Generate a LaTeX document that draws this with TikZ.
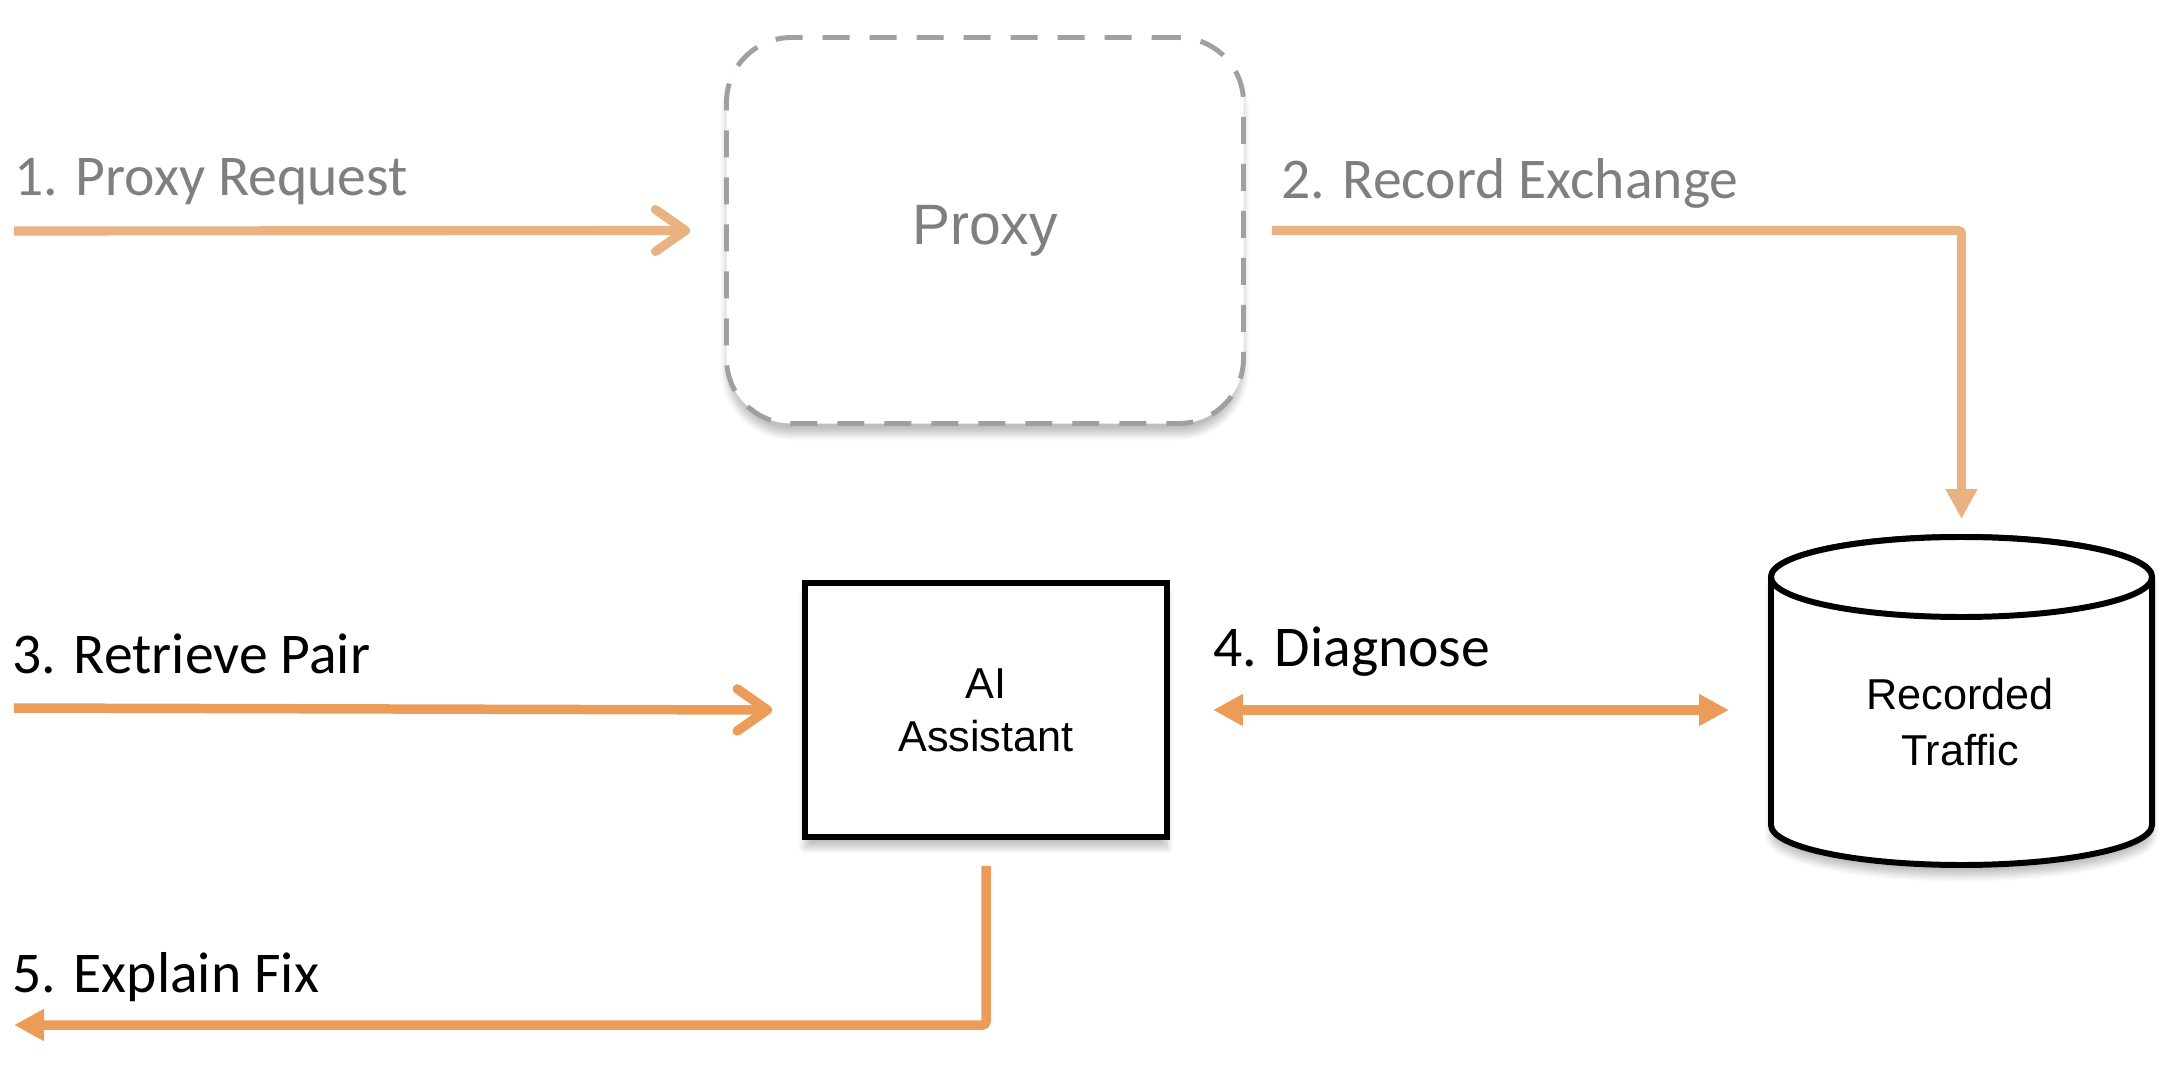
\documentclass[tikz,border=0pt]{standalone}
\usepackage{fontspec}
\setmainfont{Carlito}
\newfontfamily\arialfont{Liberation Sans}
\usepackage{tikz}
\usetikzlibrary{arrows.meta, shapes.geometric, positioning, shadows.blur}

\definecolor{orangehell}{HTML}{EAB283}
\definecolor{orangestark}{HTML}{EA9C58}
\definecolor{grautext}{HTML}{7F7F7F}
\definecolor{graurand}{HTML}{A0A0A0}

\begin{document}
\begin{tikzpicture}[x=1cm, y=1cm,
				>=latex,   %Voreinstellung für Pfeilspitzen
				schritt/.style={font=\fontsize{16.4}{19}\selectfont, anchor=base west, inner sep=0pt},
				pfeil/.style={line width=2.7pt, orangestark},
				pfeilhell/.style={line width=2.6pt, orangehell},
				spitzeoffen/.style={-{Straight Barb[round, length=0.3cm, width=0.42cm]}},
				spitze/.style={-{Triangle[length=0.3cm, width=0.3cm]}},
				schatten/.style={blur shadow={shadow xshift=0pt, shadow yshift=-3pt, shadow blur steps=8, shadow opacity=25}},
				rand/.style={draw, line width=1.7pt, fill=white},
				kasten/.style={rand, align=center, font=\arialfont\fontsize{12.3}{15}\selectfont}]
				%Rahmen festlegen
				\useasboundingbox (0,0) rectangle (21.78,10.64);
				% Knoten zeichnen
				\node[kasten, schatten, draw=graurand, dash pattern=on 0.27cm off 0.2cm, line width=1.4pt, rounded corners=0.65cm,
					minimum width=5.17cm, minimum height=3.86cm, text=grautext, font=\arialfont\fontsize{16.2}{19}\selectfont] (proxy) at (9.85,8.335) {Proxy};
				\node[kasten, schatten, minimum width=3.62cm, minimum height=2.54cm] (ai) at (9.86,3.54) {AI\\Assistant};
				% Datenspeicher (Zylinder)
				\coordinate (zyl) at (19.615,3.63);
				\draw[rand, schatten] ([shift={(-1.905,1.24)}]zyl) -- ++(0,-2.48)
					arc[start angle=180, end angle=360, x radius=1.905, y radius=0.4] -- ++(0,2.48)
					arc[start angle=0, end angle=180, x radius=1.905, y radius=0.4] -- cycle;
				\draw[rand] ([yshift=1.24cm]zyl) ellipse[x radius=1.905, y radius=0.4];
				\node[align=center, font=\arialfont\fontsize{12.3}{15.8}\selectfont] (speicher) at (19.6,3.42) {Recorded\\Traffic};
				% Hilfspunkte
				\coordinate (a1) at (0.14,8.33);
				\coordinate (a3) at (0.14,3.56);
				\coordinate (e5) at (0.14,0.39);
				\coordinate (speicher-oben) at ([yshift=1.64cm]zyl);
				\coordinate (speicher-links) at (ai.east -| {$(zyl)+(-1.905,0)$});
				% Pfeile zeichnen
				\draw[pfeilhell, spitzeoffen] (a1) -- ([xshift=-0.34cm]proxy.west);
				\draw[pfeilhell, spitze, rounded corners=1pt] ([xshift=0.26cm]proxy.east) -| ([yshift=0.18cm]speicher-oben);
				\draw[pfeil, spitzeoffen] (a3) -- ([xshift=-0.3cm]ai.west);
				\draw[pfeil, {Triangle[length=0.3cm, width=0.3cm]}-{Triangle[length=0.3cm, width=0.3cm]}] ([xshift=0.43cm]ai.east) -- ([xshift=-0.42cm]speicher-links);
				\draw[pfeil, spitze, rounded corners=1pt] ([yshift=-0.26cm]ai.south) |- (e5);
				%Beschriftung
				\node[schritt, text=grautext] (t1) at (0.14,8.69) {1. Proxy Request};
				\node[schritt, text=grautext] (t2) at (12.81,8.66) {2. Record Exchange};
				\node[schritt] (t3) at (0.12,3.91) {3. Retrieve Pair};
				\node[schritt] (t4) at (12.13,3.98) {4. Diagnose};
				\node[schritt] (t5) at (0.12,0.72) {5. Explain Fix};
\end{tikzpicture}
\end{document}
